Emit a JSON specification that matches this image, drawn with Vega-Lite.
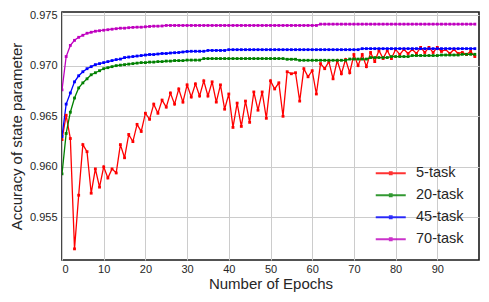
{
"$schema":"https://vega.github.io/schema/vega-lite/v6.json",
"width":417,"height":248,
"autosize":{"type":"none"},
"padding":{"left":62,"top":12,"right":10,"bottom":42},
"background":"white",
"config":{
 "view":{"stroke":"#1a1a1a","strokeWidth":1.6},
 "font":"Liberation Sans",
 "axis":{"grid":true,"gridColor":"#cccccc","gridWidth":1,"domain":false,"ticks":false,"labelFont":"Liberation Sans","labelFontSize":11,"labelColor":"#262626","titleFont":"Liberation Sans","titleFontSize":15,"titleFontWeight":"normal","titleColor":"#262626"},
 "legend":{"labelFont":"Liberation Sans","labelFontSize":14.5,"labelColor":"#262626"}
},
"data":{"values":[
{"x":0,"s":"5-task","y":0.9627},{"x":1,"s":"5-task","y":0.9651},{"x":2,"s":"5-task","y":0.9628},{"x":3,"s":"5-task","y":0.9519},{"x":4,"s":"5-task","y":0.9572},{"x":5,"s":"5-task","y":0.9622},{"x":6,"s":"5-task","y":0.9615},{"x":7,"s":"5-task","y":0.9574},{"x":8,"s":"5-task","y":0.9598},{"x":9,"s":"5-task","y":0.958},
{"x":10,"s":"5-task","y":0.96},{"x":11,"s":"5-task","y":0.9589},{"x":12,"s":"5-task","y":0.9598},{"x":13,"s":"5-task","y":0.9594},{"x":14,"s":"5-task","y":0.9622},{"x":15,"s":"5-task","y":0.9609},{"x":16,"s":"5-task","y":0.9632},{"x":17,"s":"5-task","y":0.9625},{"x":18,"s":"5-task","y":0.9642},{"x":19,"s":"5-task","y":0.9635},
{"x":20,"s":"5-task","y":0.9653},{"x":21,"s":"5-task","y":0.9647},{"x":22,"s":"5-task","y":0.9662},{"x":23,"s":"5-task","y":0.9653},{"x":24,"s":"5-task","y":0.9666},{"x":25,"s":"5-task","y":0.9659},{"x":26,"s":"5-task","y":0.9673},{"x":27,"s":"5-task","y":0.9662},{"x":28,"s":"5-task","y":0.9677},{"x":29,"s":"5-task","y":0.9664},
{"x":30,"s":"5-task","y":0.9681},{"x":31,"s":"5-task","y":0.9669},{"x":32,"s":"5-task","y":0.9682},{"x":33,"s":"5-task","y":0.967},{"x":34,"s":"5-task","y":0.9685},{"x":35,"s":"5-task","y":0.967},{"x":36,"s":"5-task","y":0.9684},{"x":37,"s":"5-task","y":0.9664},{"x":38,"s":"5-task","y":0.9681},{"x":39,"s":"5-task","y":0.9657},
{"x":40,"s":"5-task","y":0.9672},{"x":41,"s":"5-task","y":0.9639},{"x":42,"s":"5-task","y":0.9663},{"x":43,"s":"5-task","y":0.964},{"x":44,"s":"5-task","y":0.9665},{"x":45,"s":"5-task","y":0.9644},{"x":46,"s":"5-task","y":0.9674},{"x":47,"s":"5-task","y":0.9656},{"x":48,"s":"5-task","y":0.9674},{"x":49,"s":"5-task","y":0.9648},
{"x":50,"s":"5-task","y":0.9685},{"x":51,"s":"5-task","y":0.9677},{"x":52,"s":"5-task","y":0.9683},{"x":53,"s":"5-task","y":0.965},{"x":54,"s":"5-task","y":0.9694},{"x":55,"s":"5-task","y":0.9692},{"x":56,"s":"5-task","y":0.9693},{"x":57,"s":"5-task","y":0.9665},{"x":58,"s":"5-task","y":0.9697},{"x":59,"s":"5-task","y":0.9689},
{"x":60,"s":"5-task","y":0.9695},{"x":61,"s":"5-task","y":0.9672},{"x":62,"s":"5-task","y":0.9702},{"x":63,"s":"5-task","y":0.9697},{"x":64,"s":"5-task","y":0.9704},{"x":65,"s":"5-task","y":0.9687},{"x":66,"s":"5-task","y":0.9705},{"x":67,"s":"5-task","y":0.9692},{"x":68,"s":"5-task","y":0.9706},{"x":69,"s":"5-task","y":0.9693},
{"x":70,"s":"5-task","y":0.9711},{"x":71,"s":"5-task","y":0.97},{"x":72,"s":"5-task","y":0.9711},{"x":73,"s":"5-task","y":0.9699},{"x":74,"s":"5-task","y":0.9713},{"x":75,"s":"5-task","y":0.9704},{"x":76,"s":"5-task","y":0.9715},{"x":77,"s":"5-task","y":0.9707},{"x":78,"s":"5-task","y":0.9715},{"x":79,"s":"5-task","y":0.9707},
{"x":80,"s":"5-task","y":0.9716},{"x":81,"s":"5-task","y":0.9711},{"x":82,"s":"5-task","y":0.9716},{"x":83,"s":"5-task","y":0.9712},{"x":84,"s":"5-task","y":0.9716},{"x":85,"s":"5-task","y":0.9712},{"x":86,"s":"5-task","y":0.9718},{"x":87,"s":"5-task","y":0.9713},{"x":88,"s":"5-task","y":0.9718},{"x":89,"s":"5-task","y":0.9713},
{"x":90,"s":"5-task","y":0.9718},{"x":91,"s":"5-task","y":0.9714},{"x":92,"s":"5-task","y":0.9716},{"x":93,"s":"5-task","y":0.9712},{"x":94,"s":"5-task","y":0.9716},{"x":95,"s":"5-task","y":0.9712},{"x":96,"s":"5-task","y":0.9713},{"x":97,"s":"5-task","y":0.9711},{"x":98,"s":"5-task","y":0.9714},{"x":99,"s":"5-task","y":0.9709},
{"x":0,"s":"20-task","y":0.9593},{"x":1,"s":"20-task","y":0.9633},{"x":2,"s":"20-task","y":0.9654},{"x":3,"s":"20-task","y":0.9668},{"x":4,"s":"20-task","y":0.9678},{"x":5,"s":"20-task","y":0.9683},{"x":6,"s":"20-task","y":0.9687},{"x":7,"s":"20-task","y":0.9691},{"x":8,"s":"20-task","y":0.9693},{"x":9,"s":"20-task","y":0.9695},
{"x":10,"s":"20-task","y":0.9697},{"x":11,"s":"20-task","y":0.9698},{"x":12,"s":"20-task","y":0.9699},{"x":13,"s":"20-task","y":0.97},{"x":14,"s":"20-task","y":0.97005},{"x":15,"s":"20-task","y":0.9701},{"x":16,"s":"20-task","y":0.97015},{"x":17,"s":"20-task","y":0.9702},{"x":18,"s":"20-task","y":0.97025},{"x":19,"s":"20-task","y":0.9703},
{"x":20,"s":"20-task","y":0.9703},{"x":21,"s":"20-task","y":0.97035},{"x":22,"s":"20-task","y":0.97035},{"x":23,"s":"20-task","y":0.9704},{"x":24,"s":"20-task","y":0.9704},{"x":25,"s":"20-task","y":0.97045},{"x":26,"s":"20-task","y":0.97045},{"x":27,"s":"20-task","y":0.9705},{"x":28,"s":"20-task","y":0.9705},{"x":29,"s":"20-task","y":0.9705},
{"x":30,"s":"20-task","y":0.97055},{"x":31,"s":"20-task","y":0.97055},{"x":32,"s":"20-task","y":0.97055},{"x":33,"s":"20-task","y":0.97055},{"x":34,"s":"20-task","y":0.9707},{"x":35,"s":"20-task","y":0.9707},{"x":36,"s":"20-task","y":0.9707},{"x":37,"s":"20-task","y":0.9707},{"x":38,"s":"20-task","y":0.9707},{"x":39,"s":"20-task","y":0.9707},
{"x":40,"s":"20-task","y":0.9707},{"x":41,"s":"20-task","y":0.9707},{"x":42,"s":"20-task","y":0.9707},{"x":43,"s":"20-task","y":0.9707},{"x":44,"s":"20-task","y":0.9707},{"x":45,"s":"20-task","y":0.9707},{"x":46,"s":"20-task","y":0.9707},{"x":47,"s":"20-task","y":0.9707},{"x":48,"s":"20-task","y":0.9707},{"x":49,"s":"20-task","y":0.9707},
{"x":50,"s":"20-task","y":0.9707},{"x":51,"s":"20-task","y":0.9707},{"x":52,"s":"20-task","y":0.9707},{"x":53,"s":"20-task","y":0.9707},{"x":54,"s":"20-task","y":0.97063},{"x":55,"s":"20-task","y":0.97063},{"x":56,"s":"20-task","y":0.97063},{"x":57,"s":"20-task","y":0.97053},{"x":58,"s":"20-task","y":0.97053},{"x":59,"s":"20-task","y":0.97053},
{"x":60,"s":"20-task","y":0.97053},{"x":61,"s":"20-task","y":0.97053},{"x":62,"s":"20-task","y":0.97053},{"x":63,"s":"20-task","y":0.97053},{"x":64,"s":"20-task","y":0.97053},{"x":65,"s":"20-task","y":0.97053},{"x":66,"s":"20-task","y":0.97053},{"x":67,"s":"20-task","y":0.97053},{"x":68,"s":"20-task","y":0.97053},{"x":69,"s":"20-task","y":0.97065},
{"x":70,"s":"20-task","y":0.97065},{"x":71,"s":"20-task","y":0.97065},{"x":72,"s":"20-task","y":0.97065},{"x":73,"s":"20-task","y":0.97065},{"x":74,"s":"20-task","y":0.9708},{"x":75,"s":"20-task","y":0.9708},{"x":76,"s":"20-task","y":0.9708},{"x":77,"s":"20-task","y":0.9708},{"x":78,"s":"20-task","y":0.9708},{"x":79,"s":"20-task","y":0.9709},
{"x":80,"s":"20-task","y":0.9709},{"x":81,"s":"20-task","y":0.9709},{"x":82,"s":"20-task","y":0.9709},{"x":83,"s":"20-task","y":0.9709},{"x":84,"s":"20-task","y":0.971},{"x":85,"s":"20-task","y":0.971},{"x":86,"s":"20-task","y":0.971},{"x":87,"s":"20-task","y":0.971},{"x":88,"s":"20-task","y":0.971},{"x":89,"s":"20-task","y":0.971},
{"x":90,"s":"20-task","y":0.971},{"x":91,"s":"20-task","y":0.97105},{"x":92,"s":"20-task","y":0.97105},{"x":93,"s":"20-task","y":0.97105},{"x":94,"s":"20-task","y":0.97105},{"x":95,"s":"20-task","y":0.97105},{"x":96,"s":"20-task","y":0.97112},{"x":97,"s":"20-task","y":0.97112},{"x":98,"s":"20-task","y":0.97112},{"x":99,"s":"20-task","y":0.97112},
{"x":0,"s":"45-task","y":0.963},{"x":1,"s":"45-task","y":0.9662},{"x":2,"s":"45-task","y":0.9673},{"x":3,"s":"45-task","y":0.9684},{"x":4,"s":"45-task","y":0.969},{"x":5,"s":"45-task","y":0.9694},{"x":6,"s":"45-task","y":0.9697},{"x":7,"s":"45-task","y":0.9699},{"x":8,"s":"45-task","y":0.9701},{"x":9,"s":"45-task","y":0.9702},
{"x":10,"s":"45-task","y":0.9703},{"x":11,"s":"45-task","y":0.9704},{"x":12,"s":"45-task","y":0.9705},{"x":13,"s":"45-task","y":0.9706},{"x":14,"s":"45-task","y":0.97065},{"x":15,"s":"45-task","y":0.9708},{"x":16,"s":"45-task","y":0.97085},{"x":17,"s":"45-task","y":0.9709},{"x":18,"s":"45-task","y":0.97095},{"x":19,"s":"45-task","y":0.971},
{"x":20,"s":"45-task","y":0.97105},{"x":21,"s":"45-task","y":0.9711},{"x":22,"s":"45-task","y":0.9711},{"x":23,"s":"45-task","y":0.97115},{"x":24,"s":"45-task","y":0.9712},{"x":25,"s":"45-task","y":0.9712},{"x":26,"s":"45-task","y":0.97125},{"x":27,"s":"45-task","y":0.97128},{"x":28,"s":"45-task","y":0.9713},{"x":29,"s":"45-task","y":0.97135},
{"x":30,"s":"45-task","y":0.9714},{"x":31,"s":"45-task","y":0.97142},{"x":32,"s":"45-task","y":0.97142},{"x":33,"s":"45-task","y":0.97142},{"x":34,"s":"45-task","y":0.97142},{"x":35,"s":"45-task","y":0.9715},{"x":36,"s":"45-task","y":0.9715},{"x":37,"s":"45-task","y":0.9715},{"x":38,"s":"45-task","y":0.9715},{"x":39,"s":"45-task","y":0.9715},
{"x":40,"s":"45-task","y":0.97158},{"x":41,"s":"45-task","y":0.97158},{"x":42,"s":"45-task","y":0.97158},{"x":43,"s":"45-task","y":0.97158},{"x":44,"s":"45-task","y":0.97158},{"x":45,"s":"45-task","y":0.97158},{"x":46,"s":"45-task","y":0.97158},{"x":47,"s":"45-task","y":0.97158},{"x":48,"s":"45-task","y":0.97158},{"x":49,"s":"45-task","y":0.97158},
{"x":50,"s":"45-task","y":0.97158},{"x":51,"s":"45-task","y":0.97158},{"x":52,"s":"45-task","y":0.97158},{"x":53,"s":"45-task","y":0.97158},{"x":54,"s":"45-task","y":0.97158},{"x":55,"s":"45-task","y":0.97158},{"x":56,"s":"45-task","y":0.97158},{"x":57,"s":"45-task","y":0.97158},{"x":58,"s":"45-task","y":0.97158},{"x":59,"s":"45-task","y":0.97158},
{"x":60,"s":"45-task","y":0.97158},{"x":61,"s":"45-task","y":0.97158},{"x":62,"s":"45-task","y":0.97158},{"x":63,"s":"45-task","y":0.97158},{"x":64,"s":"45-task","y":0.97158},{"x":65,"s":"45-task","y":0.97158},{"x":66,"s":"45-task","y":0.97158},{"x":67,"s":"45-task","y":0.97158},{"x":68,"s":"45-task","y":0.97158},{"x":69,"s":"45-task","y":0.97158},
{"x":70,"s":"45-task","y":0.97158},{"x":71,"s":"45-task","y":0.97158},{"x":72,"s":"45-task","y":0.97168},{"x":73,"s":"45-task","y":0.97168},{"x":74,"s":"45-task","y":0.97168},{"x":75,"s":"45-task","y":0.97168},{"x":76,"s":"45-task","y":0.97168},{"x":77,"s":"45-task","y":0.97168},{"x":78,"s":"45-task","y":0.97168},{"x":79,"s":"45-task","y":0.97168},
{"x":80,"s":"45-task","y":0.97168},{"x":81,"s":"45-task","y":0.97168},{"x":82,"s":"45-task","y":0.97168},{"x":83,"s":"45-task","y":0.97168},{"x":84,"s":"45-task","y":0.97168},{"x":85,"s":"45-task","y":0.97168},{"x":86,"s":"45-task","y":0.97168},{"x":87,"s":"45-task","y":0.97168},{"x":88,"s":"45-task","y":0.97168},{"x":89,"s":"45-task","y":0.97168},
{"x":90,"s":"45-task","y":0.97168},{"x":91,"s":"45-task","y":0.97168},{"x":92,"s":"45-task","y":0.97168},{"x":93,"s":"45-task","y":0.97168},{"x":94,"s":"45-task","y":0.97168},{"x":95,"s":"45-task","y":0.97168},{"x":96,"s":"45-task","y":0.97168},{"x":97,"s":"45-task","y":0.97168},{"x":98,"s":"45-task","y":0.97168},{"x":99,"s":"45-task","y":0.97168},
{"x":0,"s":"70-task","y":0.9676},{"x":1,"s":"70-task","y":0.9709},{"x":2,"s":"70-task","y":0.972},{"x":3,"s":"70-task","y":0.9725},{"x":4,"s":"70-task","y":0.9728},{"x":5,"s":"70-task","y":0.973},{"x":6,"s":"70-task","y":0.9732},{"x":7,"s":"70-task","y":0.9733},{"x":8,"s":"70-task","y":0.9734},{"x":9,"s":"70-task","y":0.97345},
{"x":10,"s":"70-task","y":0.9735},{"x":11,"s":"70-task","y":0.97355},{"x":12,"s":"70-task","y":0.9736},{"x":13,"s":"70-task","y":0.97365},{"x":14,"s":"70-task","y":0.9737},{"x":15,"s":"70-task","y":0.9737},{"x":16,"s":"70-task","y":0.97375},{"x":17,"s":"70-task","y":0.97378},{"x":18,"s":"70-task","y":0.9738},{"x":19,"s":"70-task","y":0.9738},
{"x":20,"s":"70-task","y":0.97384},{"x":21,"s":"70-task","y":0.97387},{"x":22,"s":"70-task","y":0.9739},{"x":23,"s":"70-task","y":0.9739},{"x":24,"s":"70-task","y":0.97392},{"x":25,"s":"70-task","y":0.97397},{"x":26,"s":"70-task","y":0.97397},{"x":27,"s":"70-task","y":0.97397},{"x":28,"s":"70-task","y":0.97397},{"x":29,"s":"70-task","y":0.97397},
{"x":30,"s":"70-task","y":0.97397},{"x":31,"s":"70-task","y":0.97397},{"x":32,"s":"70-task","y":0.97397},{"x":33,"s":"70-task","y":0.97397},{"x":34,"s":"70-task","y":0.97397},{"x":35,"s":"70-task","y":0.97397},{"x":36,"s":"70-task","y":0.97397},{"x":37,"s":"70-task","y":0.97397},{"x":38,"s":"70-task","y":0.97397},{"x":39,"s":"70-task","y":0.97397},
{"x":40,"s":"70-task","y":0.97397},{"x":41,"s":"70-task","y":0.97397},{"x":42,"s":"70-task","y":0.97397},{"x":43,"s":"70-task","y":0.97397},{"x":44,"s":"70-task","y":0.97397},{"x":45,"s":"70-task","y":0.97397},{"x":46,"s":"70-task","y":0.97397},{"x":47,"s":"70-task","y":0.97397},{"x":48,"s":"70-task","y":0.97397},{"x":49,"s":"70-task","y":0.97397},
{"x":50,"s":"70-task","y":0.97397},{"x":51,"s":"70-task","y":0.97397},{"x":52,"s":"70-task","y":0.97397},{"x":53,"s":"70-task","y":0.97397},{"x":54,"s":"70-task","y":0.97397},{"x":55,"s":"70-task","y":0.97397},{"x":56,"s":"70-task","y":0.97397},{"x":57,"s":"70-task","y":0.97397},{"x":58,"s":"70-task","y":0.97397},{"x":59,"s":"70-task","y":0.97397},
{"x":60,"s":"70-task","y":0.97397},{"x":61,"s":"70-task","y":0.97397},{"x":62,"s":"70-task","y":0.9741},{"x":63,"s":"70-task","y":0.9741},{"x":64,"s":"70-task","y":0.9741},{"x":65,"s":"70-task","y":0.9741},{"x":66,"s":"70-task","y":0.9741},{"x":67,"s":"70-task","y":0.9741},{"x":68,"s":"70-task","y":0.9741},{"x":69,"s":"70-task","y":0.9741},
{"x":70,"s":"70-task","y":0.9741},{"x":71,"s":"70-task","y":0.9741},{"x":72,"s":"70-task","y":0.9741},{"x":73,"s":"70-task","y":0.9741},{"x":74,"s":"70-task","y":0.9741},{"x":75,"s":"70-task","y":0.9741},{"x":76,"s":"70-task","y":0.9741},{"x":77,"s":"70-task","y":0.9741},{"x":78,"s":"70-task","y":0.9741},{"x":79,"s":"70-task","y":0.9741},
{"x":80,"s":"70-task","y":0.9741},{"x":81,"s":"70-task","y":0.9741},{"x":82,"s":"70-task","y":0.9741},{"x":83,"s":"70-task","y":0.9741},{"x":84,"s":"70-task","y":0.9741},{"x":85,"s":"70-task","y":0.9741},{"x":86,"s":"70-task","y":0.9741},{"x":87,"s":"70-task","y":0.9741},{"x":88,"s":"70-task","y":0.9741},{"x":89,"s":"70-task","y":0.9741},
{"x":90,"s":"70-task","y":0.9741},{"x":91,"s":"70-task","y":0.9741},{"x":92,"s":"70-task","y":0.9741},{"x":93,"s":"70-task","y":0.9741},{"x":94,"s":"70-task","y":0.9741},{"x":95,"s":"70-task","y":0.9741},{"x":96,"s":"70-task","y":0.9741},{"x":97,"s":"70-task","y":0.9741},{"x":98,"s":"70-task","y":0.9741},{"x":99,"s":"70-task","y":0.9741}
]},
"mark":{"type":"line","strokeWidth":1.3,"clip":true,"point":{"filled":true,"size":8,"shape":"square"}},
"encoding":{
 "x":{"field":"x","type":"quantitative","scale":{"domain":[0,100],"nice":false,"zero":false},"axis":{"values":[0,10,20,30,40,50,60,70,80,90],"title":"Number of Epochs","labelPadding":3,"titlePadding":2}},
 "y":{"field":"y","type":"quantitative","scale":{"domain":[0.9508,0.9753],"nice":false,"zero":false},"axis":{"values":[0.955,0.96,0.965,0.97,0.975],"format":".3f","title":"Accuracy of state parameter","labelPadding":5,"titlePadding":5}},
 "color":{"field":"s","type":"nominal","scale":{"domain":["5-task","20-task","45-task","70-task"],"range":["#ff0000","#008000","#0000ff","#bf00bf"]},
   "legend":{"title":null,"orient":"none","legendX":321.5,"legendY":154,"padding":0,"symbolType":"M-3,0H3M-0.2,-0.2H0.2V0.2H-0.2Z","symbolSize":100,"symbolStrokeWidth":1.8,"symbolOpacity":0.8,"labelOffset":18,"rowPadding":7}},
 "order":{"field":"x","type":"quantitative"}
}
}
